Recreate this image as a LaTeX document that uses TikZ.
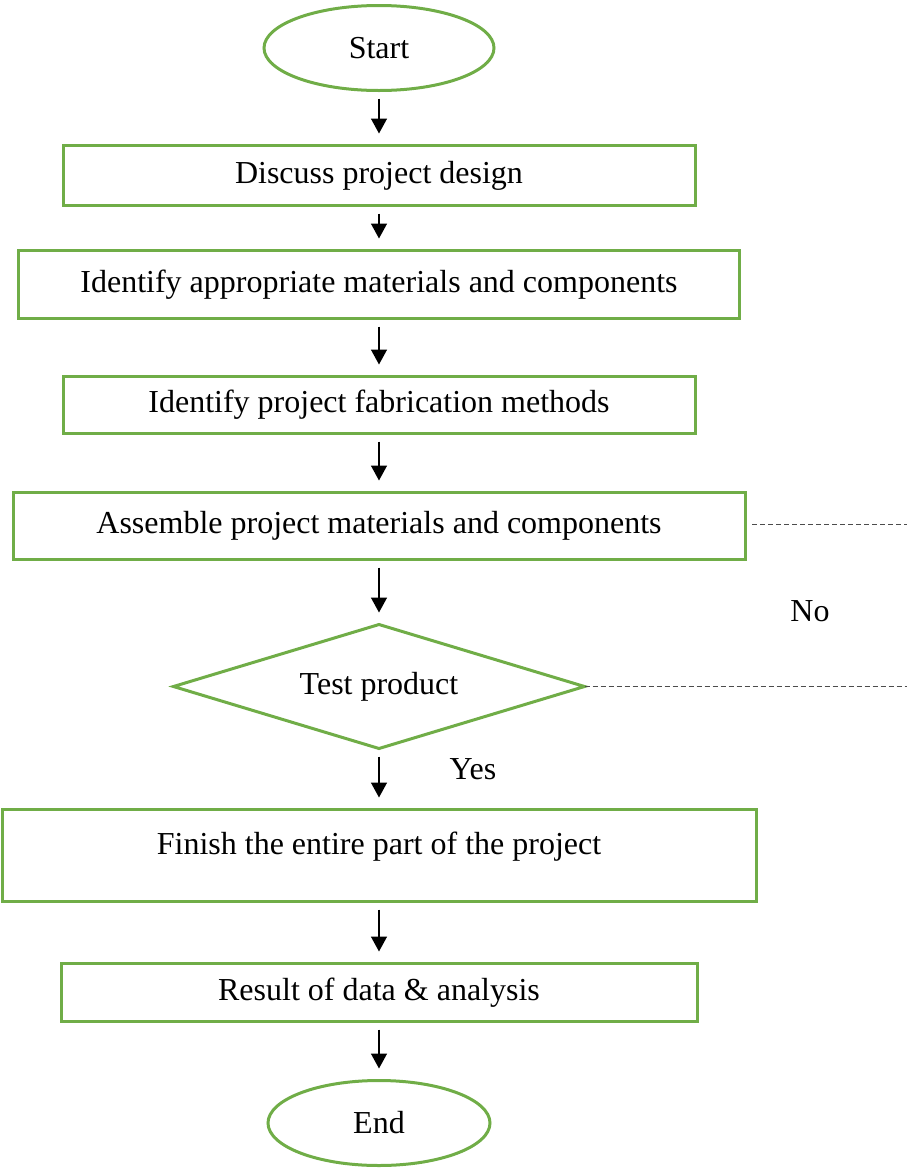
\documentclass[tikz,border=0pt]{standalone}
\usepackage{fontspec}
\setmainfont{Liberation Serif}
\usepackage{tikz}
\usetikzlibrary{shapes.geometric, arrows.meta, positioning}
\definecolor{wordgreen}{RGB}{112,173,71}
\tikzstyle{startstop} = [ellipse, minimum width=115pt, minimum height=42.5pt, inner sep=0pt, outer sep=0pt, text centered, draw=wordgreen, line width=1.5pt]
\tikzstyle{process} = [rectangle, minimum height=30pt, inner sep=0pt, outer sep=0pt, text centered, draw=wordgreen, line width=1.5pt]
\tikzstyle{decision} = [diamond, aspect=3.3, minimum width=205.5pt, minimum height=62pt, inner sep=0pt, outer sep=0pt, text centered, draw=wordgreen, line width=1.5pt]
\tikzstyle{arrow} = [line width=0.75pt, -{Triangle[length=7.5pt,width=8pt]}, shorten <=4pt, shorten >=6pt]
\tikzstyle{dashline} = [line width=0.5pt, draw=black!70, dash pattern=on 2.5pt off 1.5pt]

\begin{document}
\begin{tikzpicture}[x=0.5pt, y=-0.5pt, font=\fontsize{16}{19}\selectfont]
\useasboundingbox (0,0) rectangle (907,1168);
\coordinate (edge) at (907,0);
\node (start) [startstop] at (379,48) {Start};
\node (pro1) [process, minimum width=316pt, below=27.5pt of start] {Discuss project design};
\node (pro2) [process, minimum width=360.5pt, minimum height=34pt, below=22.5pt of pro1] {Identify appropriate materials and components};
\node (pro3) [process, minimum width=316pt, minimum height=28.5pt, below=29pt of pro2] {Identify project fabrication methods};
\node (pro4) [process, minimum width=366pt, minimum height=33.5pt, below=29.5pt of pro3] {Assemble project materials and components};
\node (dec1) [decision, below=32.5pt of pro4] {Test product};
\node (pro5) [process, minimum width=377pt, minimum height=46pt, text depth=12pt, below=30.5pt of dec1] {Finish the entire part of the project};
\node (pro6) [process, minimum width=318pt, minimum height=29pt, below=31pt of pro5] {Result of data \& analysis};
\node (stop) [startstop, minimum width=111pt, below=29.5pt of pro6] {End};
\node (no) at (810,611) {No};
\node (yes) at (473,769) {Yes};

\draw [arrow] (start) -- (pro1);
\draw [arrow] (pro1) -- (pro2);
\draw [arrow] (pro2) -- (pro3);
\draw [arrow] (pro3) -- (pro4);
\draw [arrow] (pro4) -- (dec1);
\draw [arrow] (dec1) -- (pro5);
\draw [arrow] (pro5) -- (pro6);
\draw [arrow] (pro6) -- (stop);
\draw [dashline, shorten <=3.5pt] ([yshift=1pt]pro4.east) -- ([yshift=1pt]pro4.east -| edge);
\draw [dashline] (dec1.east) -- (dec1.east -| edge);
\end{tikzpicture}
\end{document}
